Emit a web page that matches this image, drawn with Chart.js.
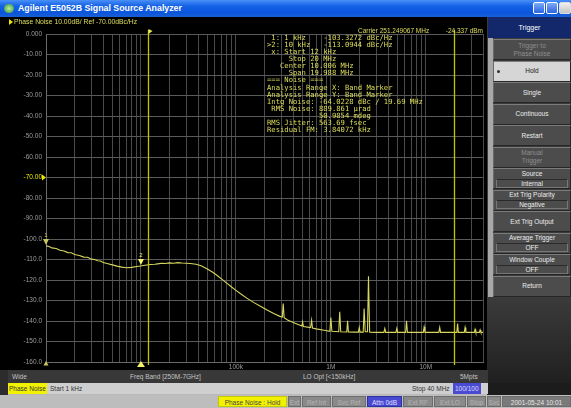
<!DOCTYPE html>
<html>
<head>
<meta charset="utf-8">
<script src="https://cdn.jsdelivr.net/npm/chart.js@4.4.1/dist/chart.umd.min.js"></script>
<style>
  html, body { margin: 0; padding: 0; width: 571px; height: 408px; overflow: hidden; background: #b9b9b9; }
  body { font-family: "Liberation Sans", Arial, sans-serif; position: relative; }
  .a { position: absolute; box-sizing: border-box; }
  #titlebar { left: 0; top: 0; width: 571px; height: 17px;
    background: linear-gradient(#4a90f8 0%, #1462e6 35%, #0a55dc 75%, #1a5fd6 100%); }
  #titletext { left: 18px; top: 3px; color: #fff; font-weight: bold; font-size: 8.8px; white-space: nowrap; }
  #icon { left: 4px; top: 4px; width: 10px; height: 9px; border-radius: 5px; background: radial-gradient(#b8f0a0, #2d8a3a); }
  .wbtn { top: 2px; width: 12px; height: 12px; border: 1px solid #fff; border-radius: 2px;
    background: linear-gradient(#7eaaf8, #2a64e0); }
  #plotbg { left: 0; top: 17px; width: 488px; height: 353px; background: #000; }
  #leftstrip { left: 0; top: 17px; width: 8px; height: 378px; background: #2c2c2c; }
  canvas { position: absolute; left: 8px; top: 17px; }
  #panel { left: 487px; top: 17px; width: 84px; height: 378px; background: linear-gradient(#3a3a3a 0%, #3a3a3a 75%, #1c1c1c 100%); }
  #panelstrip { left: 488px; top: 38px; width: 5px; height: 259px; background: #a8a8a8; }
  #trighead { left: 488px; top: 17px; width: 83px; height: 21px; background: #12286a; color: #fff;
    font-size: 7px; text-align: center; line-height: 21px; }
  .btn { left: 493px; width: 78px; background: #4c4c4c; color: #ececec; font-size: 6.5px; text-align: center;
    border-top: 1px solid #7c7c7c; border-left: 1px solid #6a6a6a; border-bottom: 1px solid #262626; border-right: 1px solid #262626;
    display: flex; flex-direction: column; justify-content: center; align-items: center; line-height: 8px; }
  .btn.dim { color: #8e8e8e; }
  .btn.sel { background: #d6d6d6; color: #222; }
  .val { width: 70px; border: 1px solid #777; border-top-color: #2a2a2a; line-height: 7px; margin-top: 1px; }
  #bar1 { left: 8px; top: 370px; width: 480px; height: 13px; background: #383838; color: #c4c4c4; font-size: 6.5px; }
  #bar2 { left: 8px; top: 383px; width: 480px; height: 11px; background: #cfcfcf; color: #333; font-size: 6.5px; }
  #rightdark { left: 488px; top: 383px; width: 83px; height: 12px; background: #1c1c1c; }
  #status { left: 0; top: 395px; width: 571px; height: 13px; background: #bdbdbd; font-size: 6.5px; }
  .t { position: absolute; white-space: nowrap; }
  .box { position: absolute; top: 1px; height: 11px; line-height: 11px; text-align: center; background: #8a8a8a;
    color: #b4b4b4; border: 1px solid #6c6c6c; box-sizing: border-box; white-space: nowrap; overflow: hidden; }
</style>
</head>
<body>
<div class="a" id="titlebar"></div>
<div class="a" id="icon"></div>
<div class="a t" id="titletext">Agilent E5052B Signal Source Analyzer</div>
<div class="a wbtn" style="left:533px"></div>
<div class="a wbtn" style="left:546px"></div>
<div class="a wbtn" style="left:559px;background:linear-gradient(#f0f0f0,#c4c4c4);border-color:#ddd"></div>

<div class="a" id="leftstrip"></div>
<div class="a" id="plotbg"></div>
<canvas id="chart" width="479" height="353"></canvas>

<div class="a" id="panel"></div>
<div class="a" id="panelstrip"></div>
<div class="a" id="trighead">Trigger</div>
<div id="buttons"></div>

<div class="a" id="bar1">
  <span class="t" style="left:4px;top:3px">Wide</span>
  <span class="t" style="left:122px;top:3px">Freq Band [250M-7GHz]</span>
  <span class="t" style="left:295px;top:3px">LO Opt [&lt;150kHz]</span>
  <span class="t" style="left:452px;top:3px">5Mpts</span>
</div>
<div class="a" id="bar2">
  <span class="t" style="left:0px;top:0;height:11px;line-height:11px;background:#f2f200;color:#333;padding:0 1px">Phase Noise</span>
  <span class="t" style="left:42px;top:0;line-height:11px">Start 1 kHz</span>
  <span class="t" style="left:404px;top:0;line-height:11px">Stop 40 MHz</span>
  <span class="t" style="left:445px;top:0;height:11px;line-height:11px;background:#4a4ad2;color:#dcdcff;padding:0 2px">100/100</span>
</div>
<div class="a" id="rightdark"></div>
<div class="a" id="status">
  <span class="box" style="left:218px;width:69px;background:#f2f200;color:#444;border-color:#c8c800">Phase Noise : Hold</span>
  <span class="box" style="left:288px;width:13px">Ext</span>
  <span class="box" style="left:302px;width:29px">Ref Int</span>
  <span class="box" style="left:332px;width:34px">Svc Ref</span>
  <span class="box" style="left:367px;width:35px;background:#4848d0;color:#e0e0ff;border-color:#3030a0">Attn 0dB</span>
  <span class="box" style="left:403px;width:30px">Ext RF</span>
  <span class="box" style="left:434px;width:32px">Ext LO</span>
  <span class="box" style="left:467px;width:19px">Stop</span>
  <span class="box" style="left:487px;width:14px">Svc</span>
  <span class="box" style="left:502px;width:69px;background:#7a7a7a;color:#e6e6e6">2001-05-24 10:01</span>
</div>

<script>
// Phase-noise trace, offset frequency (Hz) and level (dBc/Hz)
const traceFreqHz = [
  1000, 1080, 1150, 1280, 1400, 1550, 1700, 1850, 2000, 2250, 2500, 2750, 3000, 3250, 3500, 3750, 4000, 4500,
  5000, 5600, 6300, 7000, 8000, 9000, 10000, 11000, 12500, 14000, 15000, 16500, 18000, 20000, 22000, 24500, 27000, 30000, 33000, 38000, 43000, 50000, 57000, 64000, 72000,
  80000, 90000, 100000, 112000, 130000, 155000, 183000, 215000, 250000, 290000,
  308000, 315000, 322000,
  350000, 420000,
  495000, 504000, 513000,
  612000, 627000, 640000,
  700000, 850000,
  975000, 1000000, 1025000,
  1210000, 1240000, 1270000,
  1470000, 1500000, 1530000,
  1750000,
  1950000, 1990000, 2030000,
  2190000, 2240000, 2300000,
  2430000, 2490000, 2560000,
  3000000,
  3620000, 3700000, 3780000,
  4300000,
  4850000, 4950000, 5050000,
  6130000, 6260000, 6400000,
  7800000,
  9400000, 9600000, 9800000,
  11800000,
  13700000, 14000000, 14300000,
  17500000,
  21200000, 21600000, 22000000,
  25400000, 25900000, 26400000,
  29500000,
  32400000, 33000000, 33600000,
  36600000, 37300000, 38000000,
  40000000
];
const traceDbc = [
  -103.3, -103.6, -104.3, -104.6, -105.5, -105.8, -106.6, -106.7, -107.5, -108.0, -108.8, -108.9, -109.8, -110.0, -110.6, -110.7, -111.4, -112.0,
  -112.6, -113.2, -113.7, -114.0, -113.8, -113.4, -113.1, -112.8, -112.4, -112.3, -112.1, -111.8, -111.9, -111.6, -111.8, -111.5, -111.7, -111.8, -111.9, -112.3, -113.0, -114.6, -116.2, -117.9, -119.8,
  -121.5, -123.4, -125.0, -126.7, -128.8, -131.0, -132.9, -134.7, -136.3, -137.7,
  -138.0, -131.5, -138.4,
  -139.5, -141.1,
  -142.4, -140.4, -142.6,
  -143.2, -139.6, -143.4,
  -143.8, -144.5,
  -145.0, -138.3, -145.0,
  -145.2, -135.4, -145.2,
  -145.3, -139.9, -145.3,
  -145.4,
  -145.4, -143.1, -145.4,
  -145.4, -133.9, -145.2,
  -145.2, -118.1, -145.4,
  -145.5,
  -145.5, -143.6, -145.5,
  -145.5,
  -145.5, -143.6, -145.5,
  -145.5, -139.9, -145.5,
  -145.5,
  -145.5, -142.9, -145.5,
  -145.5,
  -145.5, -143.1, -145.5,
  -145.5,
  -145.5, -141.2, -145.5,
  -145.5, -143.1, -145.5,
  -145.5,
  -145.5, -144.0, -145.5,
  -145.5, -144.3, -145.5,
  -145.5
];

// Markers 1 and 2
const markerNames = ['1', '2'];
const markerFreqHz = [1000, 10000];
const markerDbc = [-103.3272, -113.0944];

// Integration band (band marker start / stop)
const bandEdgesHz = [12000, 20000000];

// Axis settings
const yTickDb = [0, -10, -20, -30, -40, -50, -60, -70, -80, -90, -100, -110, -120, -130, -140, -150, -160];
const xLabelHz = [100000, 1000000, 10000000];
const xLabelText = ['100k', '1M', '10M'];
const refLevelDb = -70;

// Readout block
const readoutLines = [
  ' 1: 1 kHz    -103.3272 dBc/Hz',
  '>2: 10 kHz   -113.0944 dBc/Hz',
  ' x: Start 12 kHz',
  '     Stop 20 MHz',
  '   Center 10.006 MHz',
  '     Span 19.988 MHz',
  '=== Noise ===',
  'Analysis Range X: Band Marker',
  'Analysis Range Y: Band Marker',
  'Intg Noise: -64.0228 dBc / 19.69 MHz',
  ' RMS Noise: 889.861 \u00b5rad',
  '            50.9854 mdeg',
  'RMS Jitter: 563.69 fsec',
  'Residual FM: 3.84072 kHz'
];
const carrierText = 'Carrier 251.249067 MHz';
const carrierPower = '-24.337 dBm';
const headerText = 'Phase Noise 10.00dB/ Ref -70.00dBc/Hz';

// Softkey column
const softkeys = [
  { label: 'Trigger to', value: 'Phase Noise', dim: true, plain: true },
  { label: 'Hold', sel: true },
  { label: 'Single' },
  { label: 'Continuous' },
  { label: 'Restart' },
  { label: 'Manual', value: 'Trigger', dim: true, plain: true },
  { label: 'Source', value: 'Internal' },
  { label: 'Ext Trig Polarity', value: 'Negative' },
  { label: 'Ext Trig Output' },
  { label: 'Average Trigger', value: 'OFF' },
  { label: 'Window Couple', value: 'OFF' },
  { label: 'Return' }
];
const btnHost = document.getElementById('buttons');
softkeys.forEach((k, i) => {
  const d = document.createElement('div');
  d.className = 'a btn' + (k.dim ? ' dim' : '') + (k.sel ? ' sel' : '');
  d.style.top = (39 + i * 21.5) + 'px';
  d.style.height = '21px';
  let html = '<div>' + k.label + '</div>';
  if (k.value) html += k.plain ? '<div>' + k.value + '</div>' : '<div class="val">' + k.value + '</div>';
  if (k.sel) html += '<div style="position:absolute;left:3px;top:8px;width:3px;height:3px;border-radius:2px;background:#333"></div>';
  d.innerHTML = html;
  btnHost.appendChild(d);
});

const xGridHz = [];
for (let d = 1000; d <= 10000000; d *= 10) {
  for (let m = 1; m <= 9; m++) {
    if (d * m <= 40000000) xGridHz.push(d * m);
  }
}
xGridHz.push(40000000);

const YEL = '#dede5c';

const overlay = {
  id: 'overlay',
  afterDatasetsDraw(chart) {
    const { ctx, chartArea: ca, scales: { x, y } } = chart;
    ctx.save();
    // band marker lines
    ctx.strokeStyle = '#c4c400';
    ctx.lineWidth = 1.3;
    bandEdgesHz.forEach(f => {
      const px = Math.round(x.getPixelForValue(f)) + 0.5;
      ctx.beginPath();
      ctx.moveTo(px, ca.top - 4);
      ctx.lineTo(px, ca.bottom + 3);
      ctx.stroke();
    });
    // flag at start edge
    const fx = Math.round(x.getPixelForValue(bandEdgesHz[0])) + 0.5;
    ctx.fillStyle = '#e8e860';
    ctx.beginPath();
    ctx.moveTo(fx, ca.top - 5);
    ctx.lineTo(fx + 4, ca.top - 3);
    ctx.lineTo(fx, ca.top);
    ctx.closePath();
    ctx.fill();
    // markers on trace
    markerFreqHz.forEach((f, i) => {
      const px = x.getPixelForValue(f);
      const py = y.getPixelForValue(markerDbc[i]);
      ctx.fillStyle = i === 1 ? '#f4f46a' : '#c8c85a';
      ctx.beginPath();
      ctx.moveTo(px, py - 1);
      ctx.lineTo(px - 3, py - 7);
      ctx.lineTo(px + 3, py - 7);
      ctx.closePath();
      ctx.fill();
      ctx.font = '6px "Liberation Sans"';
      ctx.textAlign = 'center';
      ctx.textBaseline = 'bottom';
      ctx.fillText(markerNames[i], px, py - 8);
      // marker indicator at the bottom edge
      const s = i === 1 ? 4 : 2.5;
      ctx.beginPath();
      ctx.moveTo(px, ca.bottom - 1);
      ctx.lineTo(px - s, ca.bottom + s + 1);
      ctx.lineTo(px + s, ca.bottom + s + 1);
      ctx.closePath();
      ctx.fill();
    });
    // reference level pointer
    const ry = y.getPixelForValue(refLevelDb);
    ctx.fillStyle = '#e8e800';
    ctx.beginPath();
    ctx.moveTo(ca.left - 4, ry - 3);
    ctx.lineTo(ca.left, ry);
    ctx.lineTo(ca.left - 4, ry + 3);
    ctx.closePath();
    ctx.fill();
    // header
    ctx.beginPath();
    ctx.moveTo(1, 2); ctx.lineTo(5, 5); ctx.lineTo(1, 8); ctx.closePath();
    ctx.fill();
    ctx.fillStyle = YEL;
    ctx.font = '6.8px "Liberation Sans"';
    ctx.textAlign = 'left';
    ctx.textBaseline = 'middle';
    ctx.fillText(headerText, 6, 5);
    // carrier readout
    ctx.font = '6.5px "Liberation Sans"';
    ctx.fillText(carrierText, 350, 14);
    ctx.textAlign = 'right';
    ctx.fillText(carrierPower, ca.right, 14);
    // marker / noise readout
    ctx.textAlign = 'left';
    ctx.font = '7.2px "DejaVu Sans Mono"';
    readoutLines.forEach((t, i) => ctx.fillText(t, 259, 21 + i * 7.1));
    ctx.restore();
  }
};

new Chart(document.getElementById('chart'), {
  type: 'line',
  data: {
    datasets: [{
      data: traceFreqHz.map((f, i) => ({ x: f, y: traceDbc[i] })),
      borderColor: '#d6d65e',
      borderWidth: 1.1,
      pointRadius: 0,
      tension: 0
    }]
  },
  options: {
    responsive: false,
    animation: false,
    events: [],
    layout: { padding: { top: 17, right: 4, left: 0, bottom: 0 } },
    plugins: { legend: { display: false }, tooltip: { enabled: false } },
    scales: {
      x: {
        type: 'logarithmic',
        min: 1000,
        max: 40000000,
        afterBuildTicks: s => { s.ticks = xGridHz.map(v => ({ value: v })); },
        afterFit: s => { s.height = 7; },
        grid: { color: '#4a4a4a', lineWidth: 1, drawTicks: false },
        border: { color: '#6a6a6a' },
        ticks: {
          autoSkip: false, maxRotation: 0, minRotation: 0, padding: 1,
          color: '#9c9c9c', font: { family: 'Liberation Sans', size: 6.5 },
          callback: v => { const k = xLabelHz.indexOf(v); return k >= 0 ? xLabelText[k] : ''; }
        }
      },
      y: {
        min: -160,
        max: 0,
        afterBuildTicks: s => { s.ticks = yTickDb.map(v => ({ value: v })); },
        afterFit: s => { s.width = 38; },
        grid: { color: '#5a5a5a', lineWidth: 1, drawTicks: false },
        border: { color: '#6a6a6a' },
        ticks: {
          padding: 4,
          color: c => c.tick && c.tick.value === refLevelDb ? '#e8e800' : '#9c9c9c',
          font: { family: 'Liberation Sans', size: 6.5 },
          callback: v => v === 0 ? '0.000' : (v > -100 ? v.toFixed(2) : v.toFixed(1))
        }
      }
    }
  },
  plugins: [overlay]
});
</script>
</body>
</html>
